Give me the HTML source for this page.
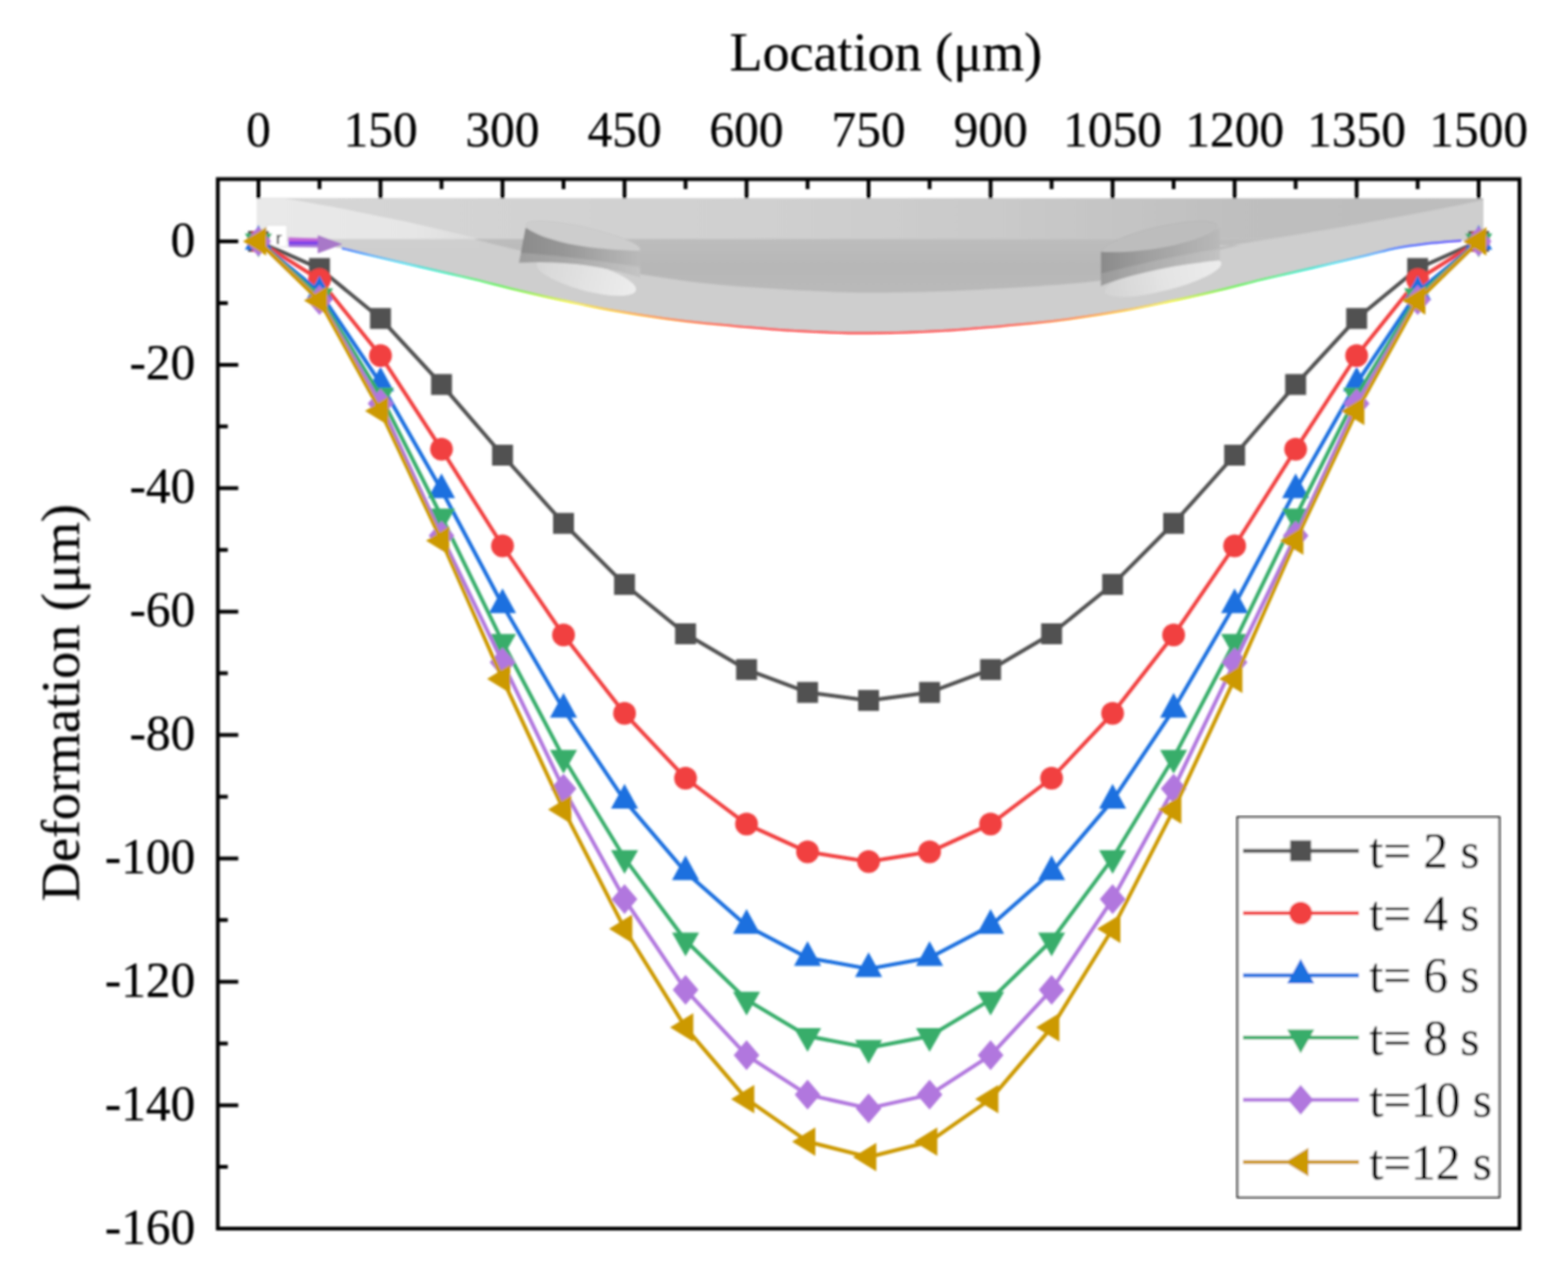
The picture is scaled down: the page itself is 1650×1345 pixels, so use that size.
<!DOCTYPE html><html><head><meta charset="utf-8"><title>Deformation vs Location</title>
<style>html,body{margin:0;padding:0;background:#fff;width:1650px;height:1345px;overflow:hidden}svg{display:block}text{font-family:"Liberation Serif","Times New Roman",serif;fill:#000;stroke:#000;stroke-width:0.25px}</style></head><body>
<div id="wrap">
<svg width="1650" height="1345" viewBox="0 0 1650 1345">
<defs><filter id="soft" x="0" y="0" width="1650" height="1345" filterUnits="userSpaceOnUse"><feGaussianBlur stdDeviation="0.85"/></filter></defs>
<rect width="1650" height="1345" fill="#fff"/>
<g filter="url(#soft)">
<defs>
<linearGradient id="gTop" x1="270" y1="0" x2="1561" y2="0" gradientUnits="userSpaceOnUse"><stop offset="0" stop-color="#d6d6d6"/><stop offset="0.45" stop-color="#cfcfcf"/><stop offset="0.62" stop-color="#c9c9c9"/><stop offset="0.8" stop-color="#bfbfbf"/><stop offset="1" stop-color="#bcbcbc"/></linearGradient>
<linearGradient id="gDark" x1="0" y1="251" x2="0" y2="308" gradientUnits="userSpaceOnUse"><stop offset="0" stop-color="#bdbdbd"/><stop offset="0.5" stop-color="#b7b7b7"/><stop offset="1" stop-color="#b9b9b9"/></linearGradient>
<linearGradient id="gWedge" x1="270" y1="0" x2="505" y2="0" gradientUnits="userSpaceOnUse"><stop offset="0" stop-color="#e9e9e9"/><stop offset="0.7" stop-color="#e6e6e6"/><stop offset="1" stop-color="#dcdcdc"/></linearGradient>
<linearGradient id="gSideL" x1="551" y1="0" x2="674" y2="0" gradientUnits="userSpaceOnUse"><stop offset="0" stop-color="#8c8c8c"/><stop offset="0.35" stop-color="#979797"/><stop offset="1" stop-color="#bababa"/></linearGradient>
<linearGradient id="gSideR" x1="1158" y1="0" x2="1284" y2="0" gradientUnits="userSpaceOnUse"><stop offset="0" stop-color="#8a8a8a"/><stop offset="0.4" stop-color="#a0a0a0"/><stop offset="1" stop-color="#b9b9b9"/></linearGradient>
<linearGradient id="gHoleL" x1="560" y1="0" x2="672" y2="0" gradientUnits="userSpaceOnUse"><stop offset="0" stop-color="#d6d6d6"/><stop offset="0.5" stop-color="#e2e2e2"/><stop offset="1" stop-color="#ededed"/></linearGradient>
<linearGradient id="gHoleR" x1="1165" y1="0" x2="1286" y2="0" gradientUnits="userSpaceOnUse"><stop offset="0" stop-color="#d4d4d4"/><stop offset="0.5" stop-color="#e4e4e4"/><stop offset="1" stop-color="#ececec"/></linearGradient>
<linearGradient id="gRain" x1="270" y1="0" x2="1561" y2="0" gradientUnits="userSpaceOnUse"><stop offset="0.02" stop-color="#4020ff"/><stop offset="0.06" stop-color="#2050ff"/><stop offset="0.09" stop-color="#20a0ff"/><stop offset="0.12" stop-color="#10d8f0"/><stop offset="0.155" stop-color="#10e8b0"/><stop offset="0.18" stop-color="#20f050"/><stop offset="0.22" stop-color="#80f020"/><stop offset="0.255" stop-color="#f0f000"/><stop offset="0.3" stop-color="#ffb000"/><stop offset="0.36" stop-color="#ff6020"/><stop offset="0.41" stop-color="#ff2020"/><stop offset="0.5" stop-color="#ff0000"/><stop offset="0.59" stop-color="#ff2020"/><stop offset="0.64" stop-color="#ff6020"/><stop offset="0.7" stop-color="#ffb000"/><stop offset="0.745" stop-color="#f0f000"/><stop offset="0.78" stop-color="#80f020"/><stop offset="0.82" stop-color="#20f050"/><stop offset="0.845" stop-color="#10e8b0"/><stop offset="0.88" stop-color="#10d8f0"/><stop offset="0.91" stop-color="#20a0ff"/><stop offset="0.94" stop-color="#2050ff"/><stop offset="0.98" stop-color="#4020ff"/></linearGradient>
<clipPath id="cSil"><path d="M270 208.5H1561V253L1561 252.8C1557.2 252.9 1548.2 252.5 1538 253.1C1527.8 253.7 1511.6 255 1500 256.4C1488.4 257.8 1478.4 259.2 1468.3 261.2C1458.2 263.2 1451 265.6 1439.2 268.4C1427.4 271.2 1411.1 275 1397.5 278.1C1383.9 281.2 1369.3 284.6 1357.7 287.3C1346.1 290 1341 291 1328 294.1C1315 297.2 1295.7 302.4 1279.5 306.2C1263.3 310 1247.2 313.7 1231 317.1C1214.8 320.5 1199.7 323.8 1182.5 326.8C1165.3 329.8 1144.6 333 1128 335.3C1111.4 337.6 1104.3 338.5 1083.1 340.5C1061.9 342.5 1028.9 345.8 1000.7 347.5C972.5 349.2 942.9 350.5 914 350.5C885.1 350.5 855.5 349.2 827.3 347.5C799.1 345.8 766.1 342.5 744.9 340.5C723.7 338.5 716.6 337.6 700 335.3C683.4 333 662.7 329.8 645.5 326.8C628.3 323.8 613.2 320.5 597 317.1C580.8 313.7 564.7 310 548.5 306.2C532.3 302.4 513 297.2 500 294.1C487 291 481.9 290 470.3 287.3C458.7 284.6 444.1 281.2 430.5 278.1C416.9 275 400.6 271.2 388.8 268.4C377 265.6 369.8 263.2 359.7 261.2C349.6 259.2 339.6 257.8 328 256.4C316.4 255 299.7 253.7 290 253.1C280.3 252.5 273.3 252.9 270 252.8Z"/></clipPath>
</defs>
<path d="M270 208.5H1561V253L1561 252.8C1557.2 252.9 1548.2 252.5 1538 253.1C1527.8 253.7 1511.6 255 1500 256.4C1488.4 257.8 1478.4 259.2 1468.3 261.2C1458.2 263.2 1451 265.6 1439.2 268.4C1427.4 271.2 1411.1 275 1397.5 278.1C1383.9 281.2 1369.3 284.6 1357.7 287.3C1346.1 290 1341 291 1328 294.1C1315 297.2 1295.7 302.4 1279.5 306.2C1263.3 310 1247.2 313.7 1231 317.1C1214.8 320.5 1199.7 323.8 1182.5 326.8C1165.3 329.8 1144.6 333 1128 335.3C1111.4 337.6 1104.3 338.5 1083.1 340.5C1061.9 342.5 1028.9 345.8 1000.7 347.5C972.5 349.2 942.9 350.5 914 350.5C885.1 350.5 855.5 349.2 827.3 347.5C799.1 345.8 766.1 342.5 744.9 340.5C723.7 338.5 716.6 337.6 700 335.3C683.4 333 662.7 329.8 645.5 326.8C628.3 323.8 613.2 320.5 597 317.1C580.8 313.7 564.7 310 548.5 306.2C532.3 302.4 513 297.2 500 294.1C487 291 481.9 290 470.3 287.3C458.7 284.6 444.1 281.2 430.5 278.1C416.9 275 400.6 271.2 388.8 268.4C377 265.6 369.8 263.2 359.7 261.2C349.6 259.2 339.6 257.8 328 256.4C316.4 255 299.7 253.7 290 253.1C280.3 252.5 273.3 252.9 270 252.8Z" fill="#cecece"/>
<g clip-path="url(#cSil)">
<path d="M270 209H1561V251.5H270Z" fill="url(#gTop)"/>
<path d="M270 251.5H505V262H270Z" fill="#cfcfcf"/>
<path d="M270 209H300C380 222 450 238 505 251.5H270Z" fill="url(#gWedge)"/>
<path d="M500 251.5H1345L1345 251.5C1335.3 253.2 1307.8 257.1 1287 262C1266.2 266.9 1241.7 275.4 1220 281C1198.3 286.6 1188.2 291.6 1157 295.5C1125.8 299.4 1072.8 302.6 1033 304.7C993.2 306.8 952.3 308 918 308C883.7 308 856.7 306.4 827 304.7C797.3 303 766 300.8 740 298C714 295.2 694 291.7 670.7 288C647.4 284.3 621.8 280.3 600 276C578.2 271.7 556.7 266 540 262C523.3 258 506.7 253.7 500 252Z" fill="url(#gDark)"/>
<path d="M1283 260Q1440 236 1561 210.5V258H1283Z" fill="#cecece"/>
<g>
<ellipse cx="617" cy="291.5" rx="54" ry="14.5" transform="rotate(15 617 291.5)" fill="url(#gHoleL)"/>
<ellipse cx="613.5" cy="249.5" rx="61.5" ry="10.5" transform="rotate(12.5 613.5 249.5)" fill="#cdcdcd" stroke="#c6c6c6" stroke-width="0.8"/>
<path d="M553 239.5C575 254 610 262 673.5 264V292C640 281 600 274 546 276.5Z" fill="url(#gSideL)"/>
<path d="M547.5 266C580 268 630 274 673.5 281V292C640 281 600 274 546 276.5Z" fill="#fff" opacity="0.16"/>
</g>
<g>
<ellipse cx="1224" cy="292" rx="63" ry="14" transform="rotate(-14 1224 292)" fill="url(#gHoleR)"/>
<ellipse cx="1220" cy="251.5" rx="62" ry="12.5" transform="rotate(-13 1220 251.5)" fill="#bdbdbd" stroke="#b5b5b5" stroke-width="0.8"/>
<path d="M1158.5 265C1195 267 1250 260 1283.5 240V274C1240 278 1190 288 1158.5 301Z" fill="url(#gSideR)"/>
<path d="M1158.5 288C1190 280 1240 268 1283.5 262V274C1240 278 1190 288 1158.5 301Z" fill="#fff" opacity="0.14"/>
</g>
</g>
<path d="M359.7 261.2C364.6 262.4 377 265.6 388.8 268.4C400.6 271.2 416.9 275 430.5 278.1C444.1 281.2 458.7 284.6 470.3 287.3C481.9 290 487 291 500 294.1C513 297.2 532.3 302.4 548.5 306.2C564.7 310 580.8 313.7 597 317.1C613.2 320.5 628.3 323.8 645.5 326.8C662.7 329.8 683.4 333 700 335.3C716.6 337.6 723.7 338.5 744.9 340.5C766.1 342.5 799.1 345.8 827.3 347.5C855.5 349.2 885.1 350.5 914 350.5C942.9 350.5 972.5 349.2 1000.7 347.5C1028.9 345.8 1061.9 342.5 1083.1 340.5C1104.3 338.5 1111.4 337.6 1128 335.3C1144.6 333 1165.3 329.8 1182.5 326.8C1199.7 323.8 1214.8 320.5 1231 317.1C1247.2 313.7 1263.3 310 1279.5 306.2C1295.7 302.4 1315 297.2 1328 294.1C1341 291 1346.1 290 1357.7 287.3C1369.3 284.6 1383.9 281.2 1397.5 278.1C1411.1 275 1427.4 271.2 1439.2 268.4C1451 265.6 1458.2 263.2 1468.3 261.2C1478.4 259.2 1488.4 257.8 1500 256.4C1511.6 255 1531.7 253.6 1538 253.1" fill="none" stroke="url(#gRain)" stroke-width="2"/>
<rect x="280.5" y="237" width="21.5" height="23" fill="#fff" stroke="#e0e0e0" stroke-width="1"/>
<text x="290.3" y="257" font-size="19" fill="#6a6a6a" style="font-family:Liberation Sans,sans-serif;stroke:none">r</text>
<defs><linearGradient id="gArr" x1="0" y1="249" x2="0" y2="261" gradientUnits="userSpaceOnUse"><stop offset="0" stop-color="#c878d8"/><stop offset="0.35" stop-color="#c060d8"/><stop offset="0.55" stop-color="#6a30f0"/><stop offset="0.75" stop-color="#a070d8"/><stop offset="1" stop-color="#b890d8"/></linearGradient></defs>
<path d="M303.5 249.5L334.5 250.5V247.5L360 257L334.5 266.5V260.5L303.5 260Z" fill="url(#gArr)"/>
<path d="M334.5 247.5L360 257L334.5 266.5Z" fill="#a878c8"/>
<path d="M272 188.5V209M336.2 188.5V199M400.4 188.5V209M464.6 188.5V199M528.8 188.5V209M593 188.5V199M657.2 188.5V209M721.4 188.5V199M785.6 188.5V209M849.8 188.5V199M914 188.5V209M978.2 188.5V199M1042.4 188.5V209M1106.6 188.5V199M1170.8 188.5V209M1235 188.5V199M1299.2 188.5V209M1363.4 188.5V199M1427.6 188.5V209M1491.8 188.5V199M1556 188.5V209M229.2 254H250.7M229.2 318.94H239.7M229.2 383.88H250.7M229.2 448.82H239.7M229.2 513.76H250.7M229.2 578.7H239.7M229.2 643.64H250.7M229.2 708.58H239.7M229.2 773.52H250.7M229.2 838.46H239.7M229.2 903.4H250.7M229.2 968.34H239.7M229.2 1033.28H250.7M229.2 1098.22H239.7M229.2 1163.16H250.7M229.2 1228.1H239.7M229.2 1293H250.7" stroke="#000" stroke-width="4" fill="none"/>
<rect x="229.2" y="188.5" width="1369.8" height="1104.5" fill="none" stroke="#000" stroke-width="4"/>
<g font-size="52" text-anchor="middle">
<text x="272" y="154">0</text>
<text x="400.4" y="154">150</text>
<text x="528.8" y="154">300</text>
<text x="657.2" y="154">450</text>
<text x="785.6" y="154">600</text>
<text x="914" y="154">750</text>
<text x="1042.4" y="154">900</text>
<text x="1170.8" y="154">1050</text>
<text x="1299.2" y="154">1200</text>
<text x="1427.6" y="154">1350</text>
<text x="1556" y="154">1500</text>
</g>
<g font-size="52" text-anchor="end">
<text x="205.5" y="269.5">0</text>
<text x="205.5" y="399.38">-20</text>
<text x="205.5" y="529.26">-40</text>
<text x="205.5" y="659.14">-60</text>
<text x="205.5" y="789.02">-80</text>
<text x="205.5" y="918.9">-100</text>
<text x="205.5" y="1048.78">-120</text>
<text x="205.5" y="1178.66">-140</text>
<text x="205.5" y="1308.5">-160</text>
</g>
<text x="932.2" y="74" font-size="58" text-anchor="middle" textLength="329" lengthAdjust="spacingAndGlyphs">Location (μm)</text>
<text transform="translate(83 739.5) rotate(-90)" font-size="58" text-anchor="middle" textLength="418" lengthAdjust="spacingAndGlyphs">Deformation (μm)</text>
<path d="M272 254L336.2 282.57L400.4 335.18L464.6 404.66L528.8 479.02L593 550.78L657.2 615.07L721.4 667.02L785.6 704.68L849.8 728.71L914 737.15L978.2 728.71L1042.4 704.68L1106.6 667.02L1170.8 615.07L1235 550.78L1299.2 479.02L1363.4 404.66L1427.6 335.18L1491.8 282.57L1556 254" fill="none" stroke="#515151" stroke-width="4" stroke-linejoin="round"/>
<g fill="#515151"><rect x="261" y="243" width="22" height="22"/><rect x="325.2" y="271.57" width="22" height="22"/><rect x="389.4" y="324.18" width="22" height="22"/><rect x="453.6" y="393.66" width="22" height="22"/><rect x="517.8" y="468.02" width="22" height="22"/><rect x="582" y="539.78" width="22" height="22"/><rect x="646.2" y="604.07" width="22" height="22"/><rect x="710.4" y="656.02" width="22" height="22"/><rect x="774.6" y="693.68" width="22" height="22"/><rect x="838.8" y="717.71" width="22" height="22"/><rect x="903" y="726.15" width="22" height="22"/><rect x="967.2" y="717.71" width="22" height="22"/><rect x="1031.4" y="693.68" width="22" height="22"/><rect x="1095.6" y="656.02" width="22" height="22"/><rect x="1159.8" y="604.07" width="22" height="22"/><rect x="1224" y="539.78" width="22" height="22"/><rect x="1288.2" y="468.02" width="22" height="22"/><rect x="1352.4" y="393.66" width="22" height="22"/><rect x="1416.6" y="324.18" width="22" height="22"/><rect x="1480.8" y="271.57" width="22" height="22"/><rect x="1545" y="243" width="22" height="22"/></g>
<path d="M272 254L336.2 294.26L400.4 374.14L464.6 472.85L528.8 574.48L593 668.32L657.2 750.79L721.4 818.98L785.6 867.36L849.8 896.58L914 906.65L978.2 896.58L1042.4 867.36L1106.6 818.98L1170.8 750.79L1235 668.32L1299.2 574.48L1363.4 472.85L1427.6 374.14L1491.8 294.26L1556 254" fill="none" stroke="#F14040" stroke-width="4" stroke-linejoin="round"/>
<g fill="#F14040"><circle cx="272" cy="254" r="12"/><circle cx="336.2" cy="294.26" r="12"/><circle cx="400.4" cy="374.14" r="12"/><circle cx="464.6" cy="472.85" r="12"/><circle cx="528.8" cy="574.48" r="12"/><circle cx="593" cy="668.32" r="12"/><circle cx="657.2" cy="750.79" r="12"/><circle cx="721.4" cy="818.98" r="12"/><circle cx="785.6" cy="867.36" r="12"/><circle cx="849.8" cy="896.58" r="12"/><circle cx="914" cy="906.65" r="12"/><circle cx="978.2" cy="896.58" r="12"/><circle cx="1042.4" cy="867.36" r="12"/><circle cx="1106.6" cy="818.98" r="12"/><circle cx="1170.8" cy="750.79" r="12"/><circle cx="1235" cy="668.32" r="12"/><circle cx="1299.2" cy="574.48" r="12"/><circle cx="1363.4" cy="472.85" r="12"/><circle cx="1427.6" cy="374.14" r="12"/><circle cx="1491.8" cy="294.26" r="12"/><circle cx="1556" cy="254" r="12"/></g>
<path d="M272 254L336.2 307.25L400.4 403.36L464.6 515.71L528.8 636.5L593 746.57L657.2 842.36L721.4 917.69L785.6 974.18L849.8 1007.95L914 1019.64L978.2 1007.95L1042.4 974.18L1106.6 917.69L1170.8 842.36L1235 746.57L1299.2 636.5L1363.4 515.71L1427.6 403.36L1491.8 307.25L1556 254" fill="none" stroke="#1A6FDF" stroke-width="4" stroke-linejoin="round"/>
<g fill="#1A6FDF"><path d="M272 236.67L286.25 262.67L257.75 262.67Z"/><path d="M336.2 289.92L350.45 315.92L321.95 315.92Z"/><path d="M400.4 386.03L414.65 412.03L386.15 412.03Z"/><path d="M464.6 498.37L478.85 524.37L450.35 524.37Z"/><path d="M528.8 619.16L543.05 645.16L514.55 645.16Z"/><path d="M593 729.24L607.25 755.24L578.75 755.24Z"/><path d="M657.2 825.02L671.45 851.02L642.95 851.02Z"/><path d="M721.4 900.35L735.65 926.35L707.15 926.35Z"/><path d="M785.6 956.85L799.85 982.85L771.35 982.85Z"/><path d="M849.8 990.62L864.05 1016.62L835.55 1016.62Z"/><path d="M914 1002.31L928.25 1028.31L899.75 1028.31Z"/><path d="M978.2 990.62L992.45 1016.62L963.95 1016.62Z"/><path d="M1042.4 956.85L1056.65 982.85L1028.15 982.85Z"/><path d="M1106.6 900.35L1120.85 926.35L1092.35 926.35Z"/><path d="M1170.8 825.02L1185.05 851.02L1156.55 851.02Z"/><path d="M1235 729.24L1249.25 755.24L1220.75 755.24Z"/><path d="M1299.2 619.16L1313.45 645.16L1284.95 645.16Z"/><path d="M1363.4 498.37L1377.65 524.37L1349.15 524.37Z"/><path d="M1427.6 386.03L1441.85 412.03L1413.35 412.03Z"/><path d="M1491.8 289.92L1506.05 315.92L1477.55 315.92Z"/><path d="M1556 236.67L1570.25 262.67L1541.75 262.67Z"/></g>
<path d="M272 254L336.2 311.8L400.4 416.35L464.6 543.63L528.8 675.46L593 797.55L657.2 903.08L721.4 989.77L785.6 1052.11L849.8 1090.43L914 1102.77L978.2 1090.43L1042.4 1052.11L1106.6 989.77L1170.8 903.08L1235 797.55L1299.2 675.46L1363.4 543.63L1427.6 416.35L1491.8 311.8L1556 254" fill="none" stroke="#37AD6B" stroke-width="4" stroke-linejoin="round"/>
<g fill="#37AD6B"><path d="M272 270.67L286.25 245.67L257.75 245.67Z"/><path d="M336.2 328.46L350.45 303.46L321.95 303.46Z"/><path d="M400.4 433.02L414.65 408.02L386.15 408.02Z"/><path d="M464.6 560.3L478.85 535.3L450.35 535.3Z"/><path d="M528.8 692.13L543.05 667.13L514.55 667.13Z"/><path d="M593 814.21L607.25 789.21L578.75 789.21Z"/><path d="M657.2 919.74L671.45 894.74L642.95 894.74Z"/><path d="M721.4 1006.44L735.65 981.44L707.15 981.44Z"/><path d="M785.6 1068.78L799.85 1043.78L771.35 1043.78Z"/><path d="M849.8 1107.09L864.05 1082.09L835.55 1082.09Z"/><path d="M914 1119.43L928.25 1094.43L899.75 1094.43Z"/><path d="M978.2 1107.09L992.45 1082.09L963.95 1082.09Z"/><path d="M1042.4 1068.78L1056.65 1043.78L1028.15 1043.78Z"/><path d="M1106.6 1006.44L1120.85 981.44L1092.35 981.44Z"/><path d="M1170.8 919.74L1185.05 894.74L1156.55 894.74Z"/><path d="M1235 814.21L1249.25 789.21L1220.75 789.21Z"/><path d="M1299.2 692.13L1313.45 667.13L1284.95 667.13Z"/><path d="M1363.4 560.3L1377.65 535.3L1349.15 535.3Z"/><path d="M1427.6 433.02L1441.85 408.02L1413.35 408.02Z"/><path d="M1491.8 328.46L1506.05 303.46L1477.55 303.46Z"/><path d="M1556 270.67L1570.25 245.67L1541.75 245.67Z"/></g>
<path d="M272 254L336.2 315.69L400.4 424.79L464.6 563.76L528.8 696.89L593 830.02L657.2 946.26L721.4 1041.72L785.6 1110.56L849.8 1152.12L914 1166.41L978.2 1152.12L1042.4 1110.56L1106.6 1041.72L1170.8 946.26L1235 830.02L1299.2 696.89L1363.4 563.76L1427.6 424.79L1491.8 315.69L1556 254" fill="none" stroke="#B177DE" stroke-width="4" stroke-linejoin="round"/>
<g fill="#B177DE"><path d="M272 238.25L285.5 254L272 269.75L258.5 254Z"/><path d="M336.2 299.94L349.7 315.69L336.2 331.44L322.7 315.69Z"/><path d="M400.4 409.04L413.9 424.79L400.4 440.54L386.9 424.79Z"/><path d="M464.6 548.01L478.1 563.76L464.6 579.51L451.1 563.76Z"/><path d="M528.8 681.14L542.3 696.89L528.8 712.64L515.3 696.89Z"/><path d="M593 814.27L606.5 830.02L593 845.77L579.5 830.02Z"/><path d="M657.2 930.51L670.7 946.26L657.2 962.01L643.7 946.26Z"/><path d="M721.4 1025.97L734.9 1041.72L721.4 1057.47L707.9 1041.72Z"/><path d="M785.6 1094.81L799.1 1110.56L785.6 1126.31L772.1 1110.56Z"/><path d="M849.8 1136.37L863.3 1152.12L849.8 1167.87L836.3 1152.12Z"/><path d="M914 1150.66L927.5 1166.41L914 1182.16L900.5 1166.41Z"/><path d="M978.2 1136.37L991.7 1152.12L978.2 1167.87L964.7 1152.12Z"/><path d="M1042.4 1094.81L1055.9 1110.56L1042.4 1126.31L1028.9 1110.56Z"/><path d="M1106.6 1025.97L1120.1 1041.72L1106.6 1057.47L1093.1 1041.72Z"/><path d="M1170.8 930.51L1184.3 946.26L1170.8 962.01L1157.3 946.26Z"/><path d="M1235 814.27L1248.5 830.02L1235 845.77L1221.5 830.02Z"/><path d="M1299.2 681.14L1312.7 696.89L1299.2 712.64L1285.7 696.89Z"/><path d="M1363.4 548.01L1376.9 563.76L1363.4 579.51L1349.9 563.76Z"/><path d="M1427.6 409.04L1441.1 424.79L1427.6 440.54L1414.1 424.79Z"/><path d="M1491.8 299.94L1505.3 315.69L1491.8 331.44L1478.3 315.69Z"/><path d="M1556 238.25L1569.5 254L1556 269.75L1542.5 254Z"/></g>
<path d="M272 254L336.2 316.34L400.4 432.58L464.6 568.96L528.8 714.42L593 852.1L657.2 977.43L721.4 1081.34L785.6 1156.67L849.8 1201.47L914 1217.71L978.2 1201.47L1042.4 1156.67L1106.6 1081.34L1170.8 977.43L1235 852.1L1299.2 714.42L1363.4 568.96L1427.6 432.58L1491.8 316.34L1556 254" fill="none" stroke="#CC9900" stroke-width="4" stroke-linejoin="round"/>
<g fill="#CC9900"><path d="M255.67 254L280.17 239L280.17 269Z"/><path d="M319.87 316.34L344.37 301.34L344.37 331.34Z"/><path d="M384.07 432.58L408.57 417.58L408.57 447.58Z"/><path d="M448.27 568.96L472.77 553.96L472.77 583.96Z"/><path d="M512.47 714.42L536.97 699.42L536.97 729.42Z"/><path d="M576.67 852.1L601.17 837.1L601.17 867.1Z"/><path d="M640.87 977.43L665.37 962.43L665.37 992.43Z"/><path d="M705.07 1081.34L729.57 1066.34L729.57 1096.34Z"/><path d="M769.27 1156.67L793.77 1141.67L793.77 1171.67Z"/><path d="M833.47 1201.47L857.97 1186.47L857.97 1216.47Z"/><path d="M897.67 1217.71L922.17 1202.71L922.17 1232.71Z"/><path d="M961.87 1201.47L986.37 1186.47L986.37 1216.47Z"/><path d="M1026.07 1156.67L1050.57 1141.67L1050.57 1171.67Z"/><path d="M1090.27 1081.34L1114.77 1066.34L1114.77 1096.34Z"/><path d="M1154.47 977.43L1178.97 962.43L1178.97 992.43Z"/><path d="M1218.67 852.1L1243.17 837.1L1243.17 867.1Z"/><path d="M1282.87 714.42L1307.37 699.42L1307.37 729.42Z"/><path d="M1347.07 568.96L1371.57 553.96L1371.57 583.96Z"/><path d="M1411.27 432.58L1435.77 417.58L1435.77 447.58Z"/><path d="M1475.47 316.34L1499.97 301.34L1499.97 331.34Z"/><path d="M1539.67 254L1564.17 239L1564.17 269Z"/></g>
<rect x="1302.2" y="860" width="275.5999999999999" height="400" fill="#fff" stroke="#111" stroke-width="2"/>
<path d="M1308 895.4H1430" stroke="#515151" stroke-width="4"/>
<g fill="#515151"><rect x="1357.7" y="884.4" width="22" height="22"/></g>
<text x="1441" y="913.2" font-size="52" xml:space="preserve">t= 2 s</text>
<path d="M1308 960.9H1430" stroke="#F14040" stroke-width="4"/>
<g fill="#F14040"><circle cx="1368.7" cy="960.9" r="12"/></g>
<text x="1441" y="978.7" font-size="52" xml:space="preserve">t= 4 s</text>
<path d="M1308 1026.4H1430" stroke="#1A6FDF" stroke-width="4"/>
<g fill="#1A6FDF"><path d="M1368.7 1009.07L1382.95 1035.07L1354.45 1035.07Z"/></g>
<text x="1441" y="1044.2" font-size="52" xml:space="preserve">t= 6 s</text>
<path d="M1308 1091.9H1430" stroke="#37AD6B" stroke-width="4"/>
<g fill="#37AD6B"><path d="M1368.7 1108.57L1382.95 1083.57L1354.45 1083.57Z"/></g>
<text x="1441" y="1109.7" font-size="52" xml:space="preserve">t= 8 s</text>
<path d="M1308 1157.4H1430" stroke="#B177DE" stroke-width="4"/>
<g fill="#B177DE"><path d="M1368.7 1141.65L1382.2 1157.4L1368.7 1173.15L1355.2 1157.4Z"/></g>
<text x="1441" y="1175.2" font-size="52" xml:space="preserve">t=10 s</text>
<path d="M1308 1222.9H1430" stroke="#CC9900" stroke-width="4"/>
<g fill="#CC9900"><path d="M1352.37 1222.9L1376.87 1207.9L1376.87 1237.9Z"/></g>
<text x="1441" y="1240.7" font-size="52" xml:space="preserve">t=12 s</text>
</g></svg></div></body></html>
